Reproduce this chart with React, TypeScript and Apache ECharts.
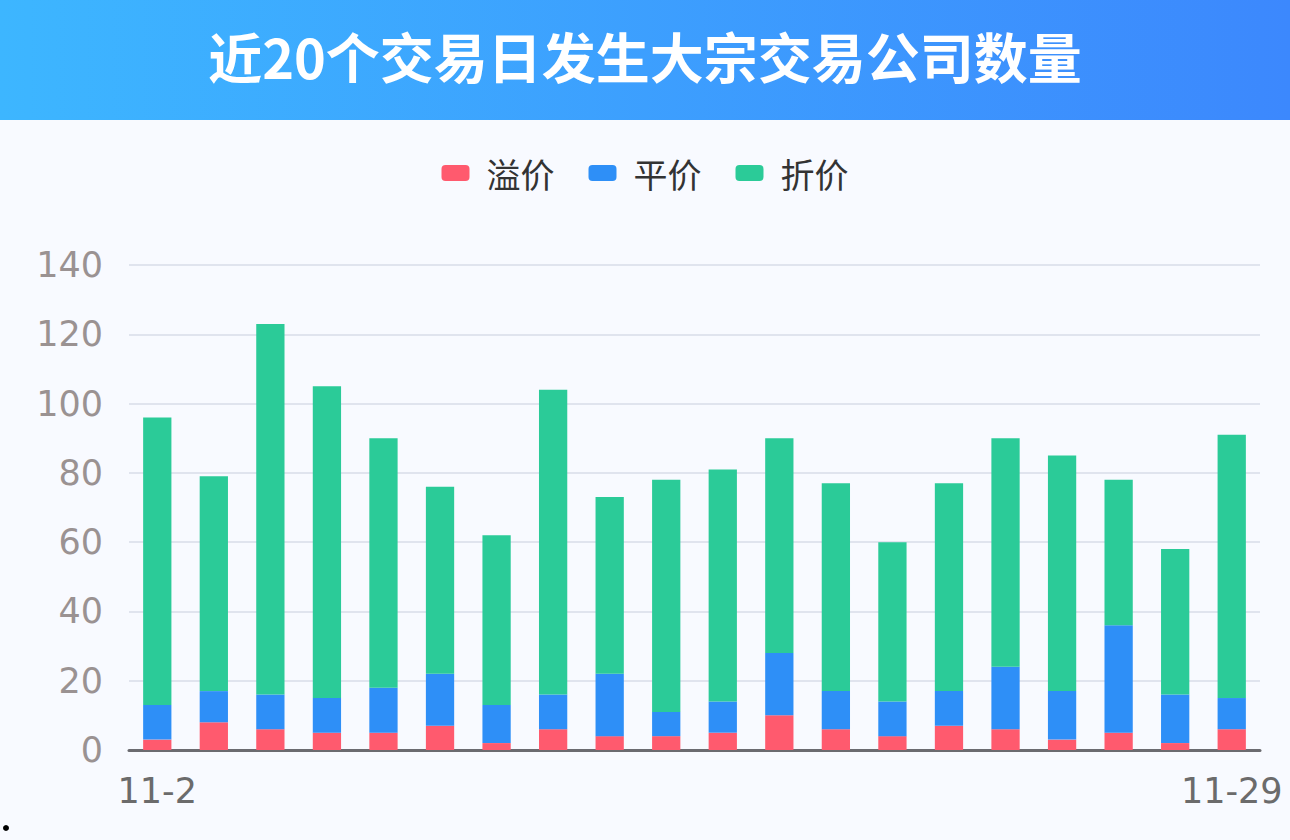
import React, { useEffect, useRef } from "react";
import * as echarts from "echarts";

const categories = [
  "11-2", "11-3", "11-4", "11-5", "11-6", "11-9", "11-10", "11-11", "11-12", "11-13",
  "11-16", "11-17", "11-18", "11-19", "11-20", "11-23", "11-24", "11-25", "11-26", "11-29",
];
const premium = [3, 8, 6, 5, 5, 7, 2, 6, 4, 4, 5, 10, 6, 4, 7, 6, 3, 5, 2, 6];
const flat = [10, 9, 10, 10, 13, 15, 11, 10, 18, 7, 9, 18, 11, 10, 10, 18, 14, 31, 14, 9];
const discount = [83, 62, 107, 90, 72, 54, 49, 88, 51, 67, 67, 62, 60, 46, 60, 66, 68, 42, 42, 76];
const seriesNames = ["溢价", "平价", "折价"];
const colors = ["#ff5a6e", "#2e8ff7", "#2bcb98"];
const title = "近20个交易日发生大宗交易公司数量";

export default function App() {
  const ref = useRef<HTMLDivElement>(null);
  useEffect(() => {
    document.body.style.margin = "0";
    const chart = echarts.init(ref.current!, undefined, { renderer: "svg" });
    const data = [premium, flat, discount];
    chart.setOption({
      animation: false,
      backgroundColor: "#f8faff",
      color: colors,
      graphic: [
        {
          type: "rect",
          left: 0,
          top: 0,
          shape: { width: 1290, height: 120 },
          style: {
            fill: new echarts.graphic.LinearGradient(0, 0, 1, 0, [
              { offset: 0, color: "#3db6ff" },
              { offset: 1, color: "#3c88fd" },
            ]),
          },
          z: 0,
        },
        {
          type: "text",
          left: "center",
          top: 28,
          style: {
            text: title,
            fill: "#ffffff",
            font: "bold 54px Noto Sans CJK SC, sans-serif",
          },
          z: 1,
        },
        {
          type: "circle",
          shape: { cx: 6, cy: 828, r: 3 },
          style: { fill: "#000" },
        },
      ],
      legend: {
        top: 151,
        left: "center",
        itemWidth: 28,
        itemHeight: 16,
        itemGap: 34,
        icon: "roundRect",
        textStyle: {
          fontSize: 34,
          color: "#333",
          fontFamily: "Noto Sans CJK SC",
          padding: [0, 0, 0, 12],
        },
        data: seriesNames,
      },
      grid: { left: 129, right: 30, top: 265, bottom: 90, containLabel: false },
      xAxis: {
        type: "category",
        data: categories,
        axisLine: { lineStyle: { color: "#6b6b70", width: 3 } },
        axisTick: { show: false },
        axisLabel: {
          interval: (i: number) => i === 0 || i === categories.length - 1,
          color: "#6b6b6b",
          fontSize: 35,
          fontFamily: "DejaVu Sans",
          margin: 23,
        },
      },
      yAxis: {
        type: "value",
        min: 0,
        max: 140,
        interval: 20,
        axisLine: { show: false },
        axisTick: { show: false },
        splitLine: { lineStyle: { color: "#e0e4ee", width: 2 } },
        axisLabel: {
          color: "#9a9292",
          fontSize: 35,
          fontFamily: "DejaVu Sans",
          margin: 26,
        },
      },
      series: seriesNames.map((name, i) => ({
        name,
        type: "bar",
        stack: "total",
        barWidth: "50%",
        data: data[i],
        itemStyle: { color: colors[i] },
      })),
    });
    return () => chart.dispose();
  }, []);
  return (
    <div
      ref={ref}
      style={{ position: "fixed", left: 0, top: 0, width: 1290, height: 840 }}
    />
  );
}
